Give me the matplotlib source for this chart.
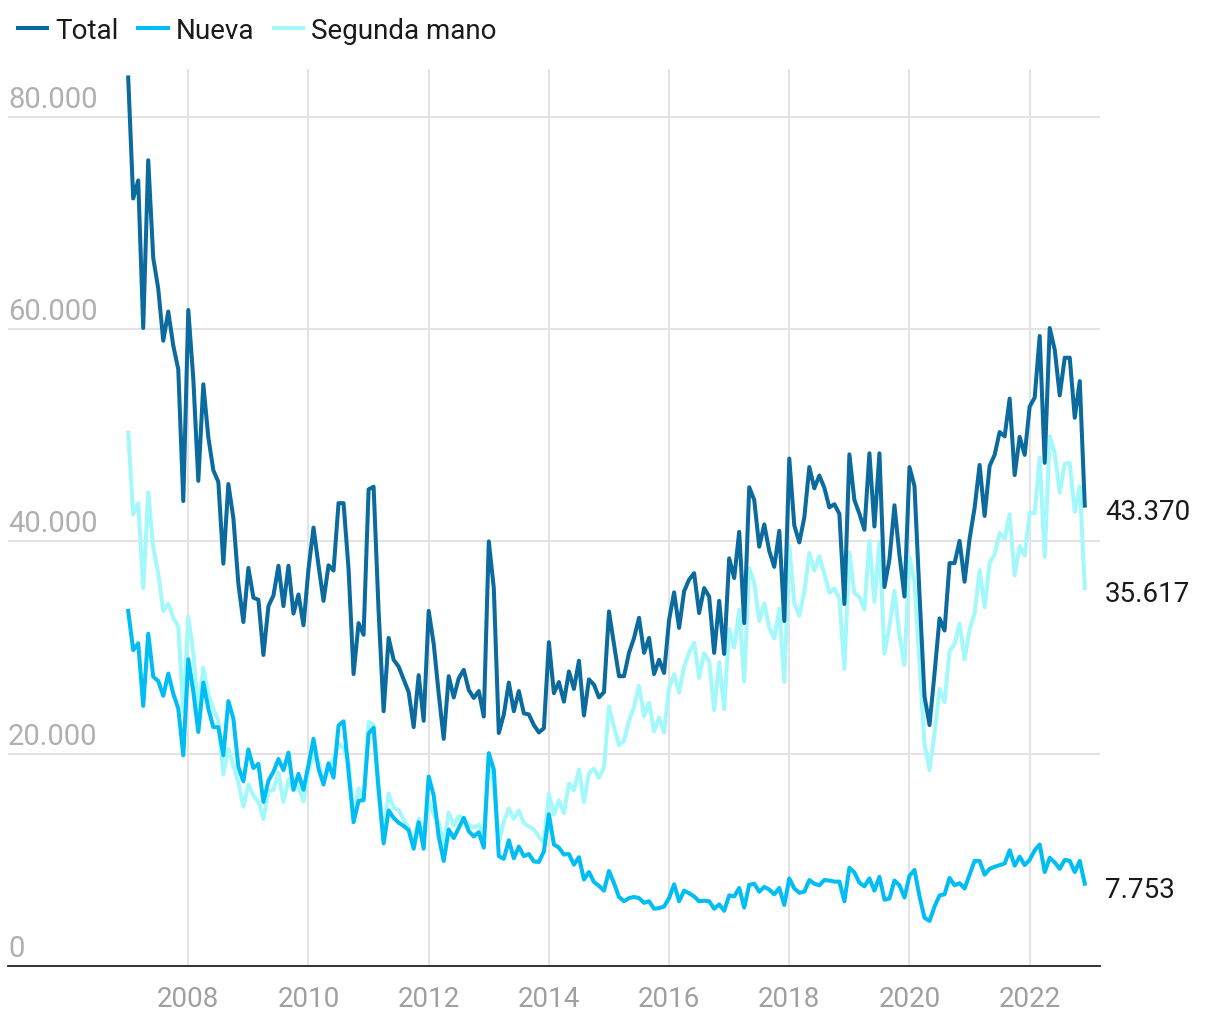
import matplotlib.pyplot as plt
import numpy as np

plt.rcParams['font.family'] = ['Roboto', 'DejaVu Sans']

# monthly data, Jan 2007 - Dec 2022
total = [
    83700, 72300, 74000, 60100, 75900, 66700, 63800, 58900, 61650, 58450, 56200, 43800,
    61800, 55300, 45700, 54800, 49800, 46700, 45600, 37900, 45400, 42200, 36000, 32400,
    37500, 34700, 34500, 29300, 33900, 34900, 37700, 33900, 37700, 33200, 35000, 32100,
    37400, 41300, 37750, 34400, 37750, 37250, 43600, 43600, 37400, 27500, 32300, 31200,
    44900, 45150, 33400, 24000, 30900, 28850, 28200, 27000, 25800, 22500, 27400, 23100,
    33450, 30350, 25650, 21400, 27300, 25300, 27100, 27900, 26000, 25250, 25900, 23500,
    40000, 35600, 21950, 23700, 26700, 24000, 25900, 23800, 23700, 22700, 22000, 22400,
    30500, 25700, 26750, 24900, 27750, 26100, 28750, 23600, 27000, 26500, 25300, 25800,
    33400, 30300, 27300, 27300, 29500, 30900, 32800, 29500, 30900, 27500, 28850, 27600,
    32600, 35200, 31850, 35300, 36400, 37000, 33250, 35600, 34800, 29500, 34400, 29400,
    38400, 36550, 40900, 32300, 45100, 43900, 39500, 41600, 39100, 37600, 41000, 32500,
    47800, 41500, 39900, 42250, 47000, 45000, 46200, 45050, 43200, 43500, 42600, 34100,
    48200, 43900, 42600, 41100, 48300, 41400, 48300, 35700, 38300, 43400, 38700, 34800,
    47000, 45200, 35000, 25400, 22700, 27550, 32750, 31600, 37950, 37950, 40050, 36200,
    40250, 43150, 47200, 42400, 47100, 48150, 50300, 49900, 53450, 46250, 49850, 48150,
    52700, 53550, 59350, 47400, 60100, 58050, 53750, 57300, 57300, 51650, 55100, 43370,
]

nueva = [
    33450, 29750, 30400, 24500, 31300, 27250, 26850, 25450, 27550, 25650, 24250, 19850,
    28900, 25850, 22050, 26700, 24250, 22500, 22500, 19850, 24950, 23300, 18750, 17400,
    20400, 18650, 19050, 15450, 17450, 18300, 19500, 18450, 20100, 16600, 18100, 16600,
    18950, 21400, 18600, 17100, 19100, 17750, 22650, 23050, 18250, 13550, 15550, 15650,
    21900, 22450, 16600, 11550, 14650, 13950, 13500, 13200, 12800, 11050, 13550, 11050,
    17850, 16050, 12200, 9900, 12850, 12050, 13000, 13950, 12700, 12200, 12600, 11150,
    20050, 18500, 10350, 10100, 11850, 10150, 11250, 10350, 10550, 9850, 9800, 10800,
    14300, 11450, 11150, 10500, 10550, 9550, 10250, 8150, 8850, 7900, 7550, 7100,
    8950, 7800, 6500, 6100, 6400, 6500, 6400, 5950, 6100, 5400, 5450, 5600,
    6400, 7700, 6100, 7100, 6850, 6550, 6100, 6150, 6100, 5400, 5800, 5200,
    6650, 6550, 7350, 5500, 7650, 7750, 7000, 7450, 7200, 6750, 7350, 5750,
    8250, 7300, 6900, 7000, 8100, 7750, 7600, 8100, 8050, 7950, 7950, 6100,
    9250, 8800, 7850, 7500, 8250, 7100, 8400, 6250, 6350, 8050, 7600, 6450,
    8500, 9050, 6550, 4550, 4250, 5600, 6650, 6750, 8300, 7600, 7800, 7300,
    8600, 9900, 9900, 8600, 9150, 9350, 9500, 9650, 10900, 9450, 10300, 9500,
    10000, 10900, 11450, 8850, 10200, 9750, 9150, 10000, 9900, 8850, 9900, 7753,
]

segunda = [
    50250, 42550, 43600, 35600, 44600, 39450, 36950, 33450, 34100, 32800, 31950, 23950,
    32900, 29450, 23650, 28100, 25550, 24200, 23100, 18050, 20450, 18900, 17250, 15000,
    17100, 16050, 15450, 13850, 16450, 16600, 18200, 15450, 17600, 16600, 16900, 15500,
    18450, 19900, 19150, 17300, 18650, 19500, 20950, 20550, 19150, 13950, 16750, 15550,
    23000, 22700, 16800, 12450, 16250, 14900, 14700, 13800, 13000, 11450, 13850, 12050,
    15600, 14300, 13450, 11500, 14450, 13250, 14100, 13950, 13300, 13050, 13300, 12350,
    19950, 17100, 11600, 13600, 14850, 13850, 14650, 13450, 13150, 12850, 12200, 11600,
    16200, 14250, 15600, 14400, 17200, 16550, 18500, 15450, 18150, 18600, 17750, 18700,
    24450, 22500, 20800, 21200, 23100, 24400, 26400, 23550, 24800, 22100, 23400, 22000,
    26200, 27500, 25750, 28200, 29550, 30450, 27150, 29450, 28700, 24100, 28600, 24200,
    31750, 30000, 33550, 26800, 37450, 36150, 32500, 34150, 31900, 30850, 33650, 26750,
    39550, 34200, 33000, 35250, 38900, 37250, 38600, 36950, 35150, 35550, 34650, 28000,
    38950, 35100, 34750, 33600, 40050, 34300, 39900, 29450, 31950, 35350, 31100, 28350,
    38500, 36150, 28450, 20850, 18450, 21950, 26100, 24850, 29650, 30350, 32250, 28900,
    31650, 33250, 37300, 33800, 37950, 38800, 40800, 40250, 42550, 36800, 39550, 38650,
    42700, 42650, 47900, 38550, 49900, 48300, 44600, 47300, 47400, 42800, 45200, 35617,
]

labels = ['Total', 'Nueva', 'Segunda mano']
colors = ['#0b6a9e', '#00bdf4', '#a3f8fc']
years = [2008, 2010, 2012, 2014, 2016, 2018, 2020, 2022]
yticks = [0, 20000, 40000, 60000, 80000]

x = 2007 + np.arange(len(total)) / 12

fig = plt.figure(figsize=(12.2, 10.2), dpi=100)
ax = fig.add_axes([8 / 1220, 1 - 967 / 1020, 1092 / 1220, 897 / 1020])

series = [total, nueva, segunda]
zorders = [5, 4, 3]
for vals, lab, col, z in zip(series, labels, colors, zorders):
    ax.plot(x, vals, color=col, lw=2.9, label=lab, zorder=z, solid_joinstyle='round')

ax.set_xlim(2005.0, 2023.17)
ax.set_ylim(0, 84500)

for s in ['top', 'right', 'left']:
    ax.spines[s].set_visible(False)
ax.spines['bottom'].set_color('#222222')
ax.spines['bottom'].set_linewidth(1.3)

ax.set_yticks(yticks)
ax.set_yticklabels([])
ax.tick_params(axis='y', length=0)
ax.set_xticks(years)
ax.set_xticklabels([str(y) for y in years], fontsize=20, color='#a0a0a0')
ax.tick_params(axis='x', length=0, pad=14)
ax.grid(True, color='#e3e3e3', lw=1.4, zorder=0)
ax.set_axisbelow(True)

for v in yticks:
    lab = f'{v:,}'.replace(',', '.')
    ax.annotate(lab, xy=(0, v), xycoords=('axes fraction', 'data'),
                xytext=(0, 4), textcoords='offset pixels',
                fontsize=21, color='#b0b0b0', ha='left', va='bottom')

for vals in series:
    v = vals[-1]
    lab = f'{v:,}'.replace(',', '.')
    ax.annotate(lab, xy=(x[-1], v), xytext=(20, -6), textcoords='offset pixels',
                fontsize=20, color='#1a1a1a', ha='left', va='center',
                annotation_clip=False)

fig.legend(loc='upper left', bbox_to_anchor=(0.0, 1.0), ncol=3, frameon=False,
           fontsize=20, handlelength=1.05, handletextpad=0.3, columnspacing=0.7,
           borderaxespad=0.25, labelcolor='#1a1a1a')

fig.savefig('out.png', dpi=100)
